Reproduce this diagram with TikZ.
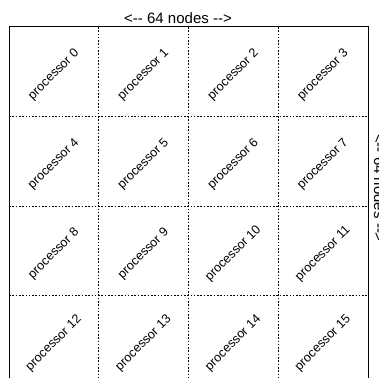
\documentclass[tikz,border=0pt]{standalone}
\usepackage{fontspec}
\setmainfont{Liberation Sans}
\begin{document}
\begin{tikzpicture}[x=1pt, y=-1pt,
    cell/.style={rotate=45, font=\fontsize{12.6}{15}\selectfont, inner sep=0pt},
    divider/.style={line width=1pt, dash pattern=on 1.6pt off 1.7pt},
    lbl/.style={font=\fontsize{15}{18}\selectfont, inner sep=0pt}]
    \useasboundingbox (0,0) rectangle (379,377);
    % dotted cell borders
    \foreach \i in {1,2,3} {
        \draw[divider] ({9+89.75*\i},27) -- ({9+89.75*\i},390);
        \draw[divider] (9,{27+89.5*\i}) -- (368,{27+89.5*\i});
    }
    \draw[line width=1pt] (9,390) -- (9,27) -- (368,27) -- (368,390);
    % processors
    \foreach \r in {0,...,3} {
        \foreach \c in {0,...,3} {
            \pgfmathtruncatemacro\n{4*\r+\c}
            \node[cell] (p\n) at ({9+89.75*(\c+0.5)},{30+89.5*(\r+0.5)}) {processor \n};
        }
    }
    \node[lbl, anchor=base] (top) at (178,24) {<-\kern0pt- 64 nodes -\kern0pt->};
    \node[lbl, anchor=base, rotate=-90] (side) at (374,188) {<-\kern0pt- 64 nodes -\kern0pt->};
\end{tikzpicture}
\end{document}
